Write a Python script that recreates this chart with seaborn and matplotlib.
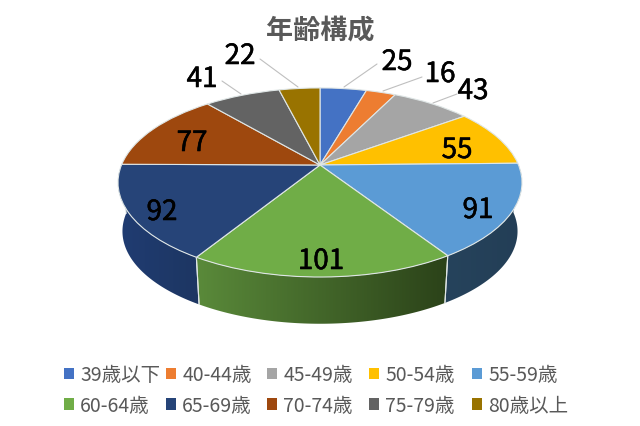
import matplotlib

matplotlib.use("Agg")

import matplotlib.patheffects as pe
import matplotlib.pyplot as plt
import numpy as np
import seaborn as sns
from matplotlib.colors import to_rgb
from matplotlib.patches import Patch, Polygon
from matplotlib.transforms import Transform

title = "年齢構成"
age_groups = ["39歳以下", "40-44歳", "45-49歳", "50-54歳", "55-59歳",
              "60-64歳", "65-69歳", "70-74歳", "75-79歳", "80歳以上"]
counts = [25, 16, 43, 55, 91, 101, 92, 77, 41, 22]
slice_colors = ["#4472C4", "#ED7D31", "#A5A5A5", "#FFC000", "#5B9BD5",
                "#70AD47", "#264478", "#9E480E", "#636363", "#997300"]

# side wall shades (left, right) for the slices facing the viewer
wall_shades = {
    4: ("#26435c", "#233e56"),
    5: ("#5a8a3a", "#2b4219"),
    6: ("#203c72", "#1d3662"),
}

# label centres in pixels, same order as counts
label_pos = [(397, 63), (440, 75), (473, 92), (457, 151), (478, 211),
             (321, 262), (162, 213), (192, 144), (202, 80), (240, 57)]
leaders = [
    ((344, 88), (377, 65)),
    ((383, 92), (422, 78)),
    ((433, 104), (457, 95)),
    ((241, 95), (222, 82)),
    ((298, 88), (260, 60)),
]
legend_x = [64, 166, 267, 369, 472]

# disc seen in perspective: apex at (320, 166) in pixels
CX, CY = 320, 166
RX, RY, TILT = 198.5, 91.3, 0.185
DEPTH_Y, SHRINK = 215.2, 0.978


def project(xy):
    xy = np.asarray(xy, dtype=float)
    w = 1 + TILT * xy[..., 1]
    return np.stack([CX + RX * xy[..., 0] / w, CY - RY * xy[..., 1] / w], axis=-1)


def project_lower(xy):
    top = project(xy)
    return np.stack([CX + SHRINK * (top[..., 0] - CX),
                     DEPTH_Y + SHRINK * (top[..., 1] - CY)], axis=-1)


class PerspectiveTransform(Transform):
    input_dims = 2
    output_dims = 2
    is_affine = False

    def transform_non_affine(self, values):
        return project(values)


def circle_points(start, stop, n=80):
    t = np.radians(np.linspace(start, stop, n))
    return np.column_stack([np.cos(t), np.sin(t)])


sns.set_theme(style="white")
plt.rcParams["font.family"] = ["Noto Sans CJK JP", "DejaVu Sans"]

fig = plt.figure(figsize=(6.4, 4.27), dpi=100)
ax = fig.add_axes([0, 0, 1, 1])
palette = sns.color_palette(slice_colors)

# walls first, the top face covers whatever sits behind it
cum = np.cumsum([0] + counts) / sum(counts) * 360
for i, (left, right) in wall_shades.items():
    pts = circle_points(90 - cum[i], 90 - cum[i + 1])
    top_edge = project(pts)
    low_edge = project_lower(pts)
    outline = np.vstack([top_edge, low_edge[::-1]])
    wall = Polygon(outline, closed=True, transform=ax.transData, fc="none", ec="none")
    ax.add_patch(wall)
    ramp = np.linspace(to_rgb(left), to_rgb(right), 256)[None, :, :]
    x0, x1 = outline[:, 0].min(), outline[:, 0].max()
    y0, y1 = outline[:, 1].min(), outline[:, 1].max()
    img = ax.imshow(ramp, extent=(x0, x1, y1, y0), aspect="auto", zorder=1)
    img.set_clip_path(wall)
    for k in (0, -1):
        if (i, k) == (4, 0):
            continue
        ax.plot([top_edge[k, 0], low_edge[k, 0]], [top_edge[k, 1], low_edge[k, 1]],
                color="#dfe6e6", lw=0.8, zorder=2)

wedges, _ = ax.pie(counts, colors=palette, startangle=90, counterclock=False,
                   wedgeprops={"edgecolor": "#dfe6e6", "linewidth": 0.8, "zorder": 3})
perspective = PerspectiveTransform()
for wedge in wedges:
    wedge.set_transform(perspective + ax.transData)

for (p0, p1) in leaders:
    ax.plot([p0[0], p1[0]], [p0[1], p1[1]], color="#bfbfbf", lw=0.8, zorder=4)

for value, (x, y) in zip(counts, label_pos):
    ax.text(x, y, str(value), ha="center", va="center", fontsize=20, color="black", zorder=5,
            path_effects=[pe.withStroke(linewidth=0.4, foreground="black")])

ax.text(320, 30, title, ha="center", va="center", fontsize=19.5, fontweight="bold",
        color="#595959", zorder=5)

ax.set_aspect("auto")
ax.set_xlim(0, 640)
ax.set_ylim(427, 0)
ax.axis("off")

# one small legend per column so the slots stay evenly spaced
for col, x in enumerate(legend_x):
    handles = [Patch(facecolor=slice_colors[j], edgecolor="none") for j in (col, col + 5)]
    names = [age_groups[col], age_groups[col + 5]]
    fig.legend(handles, names, loc="center left", bbox_to_anchor=(x / 640, 1 - 391 / 427),
               frameon=False, fontsize=14, labelcolor="#595959", handlelength=0.5,
               handleheight=0.5, handletextpad=0.33, labelspacing=0.5,
               borderpad=0, borderaxespad=0)

fig.savefig("out.png", dpi=100, facecolor="white")
